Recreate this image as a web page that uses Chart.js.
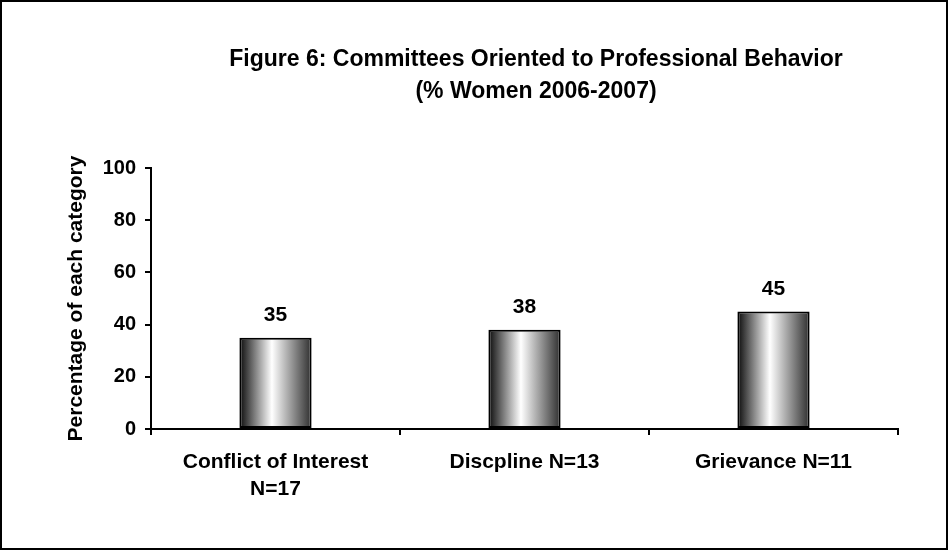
<!DOCTYPE html>
<html>
<head>
<meta charset="utf-8">
<script src="https://cdn.jsdelivr.net/npm/chart.js@4/dist/chart.umd.min.js"></script>
<style>
  html, body { margin: 0; padding: 0; background: #fff; }
  #wrap { width: 948px; height: 550px; }
</style>
</head>
<body>
<div id="wrap"><canvas id="committeeChart" width="948" height="550"></canvas></div>
<script>
var categories = [['Conflict of Interest', 'N=17'], 'Discpline N=13', 'Grievance N=11'];
var womenPct = [35, 38, 45];
var yTicks = [0, 20, 40, 60, 80, 100];
var titleLines = ['Figure 6: Committees Oriented to Professional Behavior', '(% Women 2006-2007)'];

var FONT = "'Liberation Sans', Arial, sans-serif";
var BAR_PCT = 0.29;

// dark-light-dark shading across each bar
function barGradient(ctx) {
    var chart = ctx.chart;
    var xs = chart.scales.x;
    if (!xs || ctx.type !== 'data') return '#888';
    var cx = xs.getPixelForValue(ctx.dataIndex);
    var half = xs.width / categories.length * BAR_PCT / 2;
    if (!isFinite(cx) || !isFinite(half) || half <= 0) return '#888';
    var g = chart.ctx.createLinearGradient(cx - half, 0, cx + half, 0);
    g.addColorStop(0, '#0a0a0a');
    g.addColorStop(0.45, '#ffffff');
    g.addColorStop(1, '#2e2e2e');
    return g;
}

var chartDecor = {
    id: 'chartDecor',
    afterDraw: function (chart) {
        var c = chart.ctx;
        c.save();
        // title
        c.fillStyle = '#000';
        c.textAlign = 'center';
        c.textBaseline = 'alphabetic';
        c.font = 'bold 23px ' + FONT;
        c.fillText(titleLines[0], 536, 66);
        c.fillText(titleLines[1], 536, 98);
        // value labels
        c.font = 'bold 21px ' + FONT;
        chart.getDatasetMeta(0).data.forEach(function (bar, i) {
            c.fillText(String(womenPct[i]), bar.x, bar.y - 17);
        });
        // outer frame
        c.strokeStyle = '#000';
        c.lineWidth = 2;
        c.strokeRect(1, 1, 946, 548);
        c.restore();
    }
};

new Chart(document.getElementById('committeeChart'), {
    type: 'bar',
    data: {
        labels: categories,
        datasets: [{
            data: womenPct,
            backgroundColor: barGradient,
            borderColor: '#000',
            borderWidth: 2,
            borderSkipped: false,
            barPercentage: BAR_PCT,
            categoryPercentage: 1
        }]
    },
    options: {
        responsive: false,
        animation: false,
        events: [],
        layout: {
            padding: { left: 60, top: 168, right: 50, bottom: 0 }
        },
        plugins: {
            legend: { display: false },
            tooltip: { enabled: false }
        },
        scales: {
            x: {
                grid: {
                    display: true,
                    drawOnChartArea: false,
                    drawTicks: true,
                    tickLength: 6,
                    color: '#000',
                    lineWidth: 2
                },
                border: { color: '#000', width: 2 },
                ticks: {
                    color: '#000',
                    padding: 14,
                    maxRotation: 0,
                    autoSkip: false,
                    font: { family: FONT, size: 21, weight: 'bold', lineHeight: 1.29 }
                },
                afterFit: function (scale) { scale.height = 121; }
            },
            y: {
                min: 0,
                max: 100,
                afterBuildTicks: function (scale) {
                    scale.ticks = yTicks.map(function (v) { return { value: v }; });
                },
                grid: {
                    display: true,
                    drawOnChartArea: false,
                    drawTicks: true,
                    tickLength: 6,
                    color: '#000',
                    lineWidth: 2
                },
                border: { color: '#000', width: 2 },
                ticks: {
                    color: '#000',
                    padding: 9,
                    font: { family: FONT, size: 20, weight: 'bold' }
                },
                title: {
                    display: true,
                    text: 'Percentage of each category',
                    color: '#000',
                    padding: { top: 4, bottom: 0 },
                    font: { family: FONT, size: 21, weight: 'bold', lineHeight: 1.2 }
                },
                afterFit: function (scale) { scale.width = 91; }
            }
        }
    },
    plugins: [chartDecor]
});
</script>
</body>
</html>
